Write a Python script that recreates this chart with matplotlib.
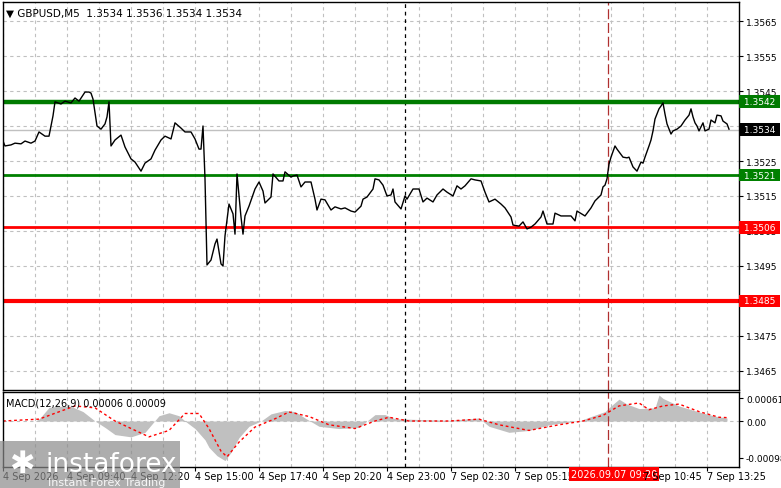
import matplotlib
matplotlib.use("Agg")
import matplotlib.pyplot as plt
import numpy as np
from matplotlib.patches import Rectangle

price_bars = [0,1,4,6,9,11,14,16,18,21,23,25,26,29,31,34,36,38,41,43,44,45,47,49,51,52,53,54,56,59,61,64,66,69,71,74,76,79,81,84,86,89,91,94,96,98,99,100,101,102,104,106,107,109,110,111,113,115,116,117,119,120,121,123,126,128,130,131,134,135,138,140,141,144,145,147,149,151,154,156,157,159,161,164,166,169,171,174,176,179,180,182,185,186,188,190,192,194,195,196,199,201,202,205,208,210,212,215,217,220,222,225,227,229,231,234,236,239,241,243,246,249,251,254,255,258,260,262,264,266,269,270,272,275,276,279,281,284,286,287,291,294,296,299,300,301,302,303,304,306,307,310,312,313,314,315,317,319,320,321,323,324,325,326,328,329,330,331,332,334,335,337,339,341,343,344,345,346,347,348,350,351,353,354,356,357,359,360,362,363]
price_vals = [1.35307,1.35293,1.35296,1.35301,1.35299,1.35307,1.35301,1.35307,1.35333,1.35321,1.35321,1.35379,1.35419,1.35413,1.35421,1.35416,1.35430,1.35421,1.35447,1.35447,1.35444,1.35427,1.35350,1.35341,1.35356,1.35376,1.35419,1.35293,1.35310,1.35324,1.35290,1.35256,1.35247,1.35221,1.35244,1.35256,1.35281,1.35310,1.35321,1.35313,1.35359,1.35344,1.35333,1.35333,1.35313,1.35284,1.35284,1.35350,1.35199,1.34953,1.34967,1.35013,1.35027,1.34956,1.34950,1.35036,1.35127,1.35099,1.35041,1.35213,1.35090,1.35041,1.35093,1.35121,1.35170,1.35190,1.35164,1.35130,1.35147,1.35213,1.35193,1.35193,1.35219,1.35204,1.35207,1.35210,1.35176,1.35190,1.35190,1.35141,1.35110,1.35141,1.35139,1.35110,1.35119,1.35113,1.35116,1.35107,1.35104,1.35121,1.35141,1.35147,1.35170,1.35199,1.35196,1.35181,1.35150,1.35153,1.35170,1.35133,1.35113,1.35150,1.35141,1.35170,1.35170,1.35133,1.35144,1.35133,1.35153,1.35170,1.35161,1.35150,1.35179,1.35170,1.35179,1.35199,1.35196,1.35193,1.35161,1.35133,1.35141,1.35127,1.35116,1.35090,1.35067,1.35064,1.35076,1.35056,1.35061,1.35070,1.35090,1.35107,1.35070,1.35070,1.35101,1.35093,1.35093,1.35093,1.35079,1.35107,1.35093,1.35116,1.35136,1.35153,1.35176,1.35181,1.35199,1.35241,1.35261,1.35293,1.35284,1.35261,1.35259,1.35261,1.35247,1.35233,1.35221,1.35247,1.35244,1.35261,1.35293,1.35310,1.35336,1.35370,1.35399,1.35407,1.35416,1.35384,1.35356,1.35327,1.35336,1.35341,1.35350,1.35367,1.35381,1.35399,1.35376,1.35359,1.35350,1.35336,1.35359,1.35336,1.35341,1.35367,1.35359,1.35381,1.35379,1.35364,1.35356,1.35341]

hist_bars = [0,16,18,23,27,34,40,46,51,56,64,71,78,83,88,91,96,101,103,107,111,114,118,123,129,134,141,146,151,158,168,178,186,191,196,208,223,233,238,243,253,263,273,283,288,293,301,304,308,312,318,326,328,330,338,348,356,362]
hist_vals = [0,0,0.00005,0.00036,0.00039,0.00039,0.00025,0,-0.00017,-0.00036,-0.00042,-0.0003,0.00014,0.00022,0.00014,0.0,-0.0002,-0.0005,-0.0007,-0.00092,-0.00105,-0.00083,-0.00044,-0.00014,0.0,0.00019,0.00028,0.00025,0.00008,-0.00014,-0.0002,-0.00017,0.00017,0.00017,0.00006,0.00004,0.00002,0.00006,0.00008,-0.00014,-0.0003,-0.00025,-0.0001,-0.00003,0.0,0.0001,0.00025,0.0004,0.00058,0.00045,0.00033,0.00035,0.00069,0.0006,0.0004,0.00024,0.00013,0.00008]

sig_bars = [0,18,36,46,56,73,83,91,98,103,109,112,118,126,136,143,153,163,176,186,193,203,223,238,248,263,278,290,300,308,318,323,330,338,348,358,362]
sig_vals = [0.0,0.00005,0.0004,0.00035,0.0,-0.00042,-0.00025,0.0002,0.0002,-0.0002,-0.0008,-0.00095,-0.00056,-0.00016,0.00006,0.00024,0.00012,-0.0001,-0.0002,0.0,0.0001,0.0,0.0,0.00005,-0.0001,-0.00025,-0.0001,0.0,0.00015,0.0004,0.00048,0.0003,0.0004,0.00045,0.00025,0.0001,0.00009]

levels = [1.3542, 1.3521, 1.3506, 1.3485]
level_colors = ["#007b00", "#008000", "#ff0000", "#ff0000"]
level_widths = [3.2, 2.0, 2.0, 3.0]
price_ticks = [1.3565,1.3555,1.3545,1.3535,1.3525,1.3515,1.3505,1.3495,1.3485,1.3475,1.3465]
xtick_bars = [0,32,64,96,128,160,192,224,256,288,320,352]
xtick_labels = ["4 Sep 2026","4 Sep 09:40","4 Sep 12:20","4 Sep 15:00","4 Sep 17:40","4 Sep 20:20",
                "4 Sep 23:00","7 Sep 02:30","7 Sep 05:15","2026.09.07 09:20","7 Sep 10:45","7 Sep 13:25"]
last_price = 1.3534

W, H = 781, 489
fig = plt.figure(figsize=(W/100, H/100), dpi=100)
fig.patch.set_facecolor("white")
L, R = 3, 739
ax = fig.add_axes([L/W, (H-391)/H, (R-L)/W, 388/H])
mx = fig.add_axes([L/W, (H-468)/H, (R-L)/W, 75/H])
XMAX = 368
for a in (ax, mx):
    a.set_xlim(0, XMAX)
    for s in a.spines.values():
        s.set_color("black"); s.set_linewidth(1.0)
    a.tick_params(left=False, labelleft=False, bottom=False, labelbottom=False,
                  right=True, labelright=True, direction="out", length=3, labelsize=6.5, pad=2)
    for xb in range(0, XMAX, 16):
        a.axvline(xb, color="#c0c0c0", ls=(0, (3, 3)), lw=0.8, zorder=0)

ax.set_ylim(1.345957, 1.357043)
ax.set_yticks(price_ticks)
ax.set_yticklabels([f"{t:.4f}" for t in price_ticks])
for t in price_ticks:
    ax.axhline(t, color="#c0c0c0", ls=(0, (3, 3)), lw=0.8, zorder=0)
ax.axhline(last_price, color="#c0c0c0", lw=1.0, zorder=1)
for lv, c, w in zip(levels, level_colors, level_widths):
    ax.axhline(lv, color=c, lw=w, zorder=2)
ax.plot(price_bars, price_vals, color="black", lw=1.0, zorder=3)
ax.axvline(201, color="black", ls=(0, (3, 3)), lw=0.9, zorder=1)
ax.axvline(302.5, color="#b03030", ls=(0, (8, 3)), lw=0.9, zorder=1)
for lv, c in zip(levels + [last_price], ["#007b00", "#008000", "#ff0000", "#ff0000", "black"]):
    ax.text(1.003, lv, f" {lv:.4f} ", transform=ax.get_yaxis_transform(), va="center", ha="left",
            fontsize=6.5, color="white", zorder=10,
            bbox=dict(boxstyle="square,pad=0.2", fc=c, ec="none"), clip_on=False)
ax.text(0.004, 0.985, "▼ GBPUSD,M5  1.3534 1.3536 1.3534 1.3534", transform=ax.transAxes,
        va="top", ha="left", fontsize=7.5)

mx.set_ylim(-0.00122, 0.00077)
mx.set_yticks([0.00061, 0.0, -0.00098])
mx.set_yticklabels(["0.00061", "0.00", "-0.00098"])
mx.axhline(0, color="#c0c0c0", ls=(0, (3, 3)), lw=0.8, zorder=0)
mx.fill_between(hist_bars, 0, hist_vals, color="#c0c0c0", lw=0, zorder=1)
mx.plot(sig_bars, sig_vals, color="red", ls=(0, (2, 2)), lw=1.0, zorder=2)
mx.axvline(201, color="black", ls=(0, (3, 3)), lw=0.9, zorder=1)
mx.axvline(302.5, color="#b03030", ls=(0, (8, 3)), lw=0.9, zorder=1)
mx.text(0.004, 0.93, "MACD(12,26,9) 0.00006 0.00009", transform=mx.transAxes, va="top", ha="left", fontsize=7)

mx.set_xticks(xtick_bars)
mx.tick_params(bottom=True, length=3)
for xb, lab in zip(xtick_bars, xtick_labels):
    if lab.startswith("2026"):
        mx.text(xb - 4, -0.03, lab, transform=mx.get_xaxis_transform(), va="top", ha="left",
                fontsize=7, color="white", bbox=dict(boxstyle="square,pad=0.2", fc="red", ec="none"))
    else:
        mx.text(xb, -0.05, lab, transform=mx.get_xaxis_transform(), va="top", ha="left", fontsize=7)

# watermark
fig.patches.append(Rectangle((0, 0), 180/W, 47/H, transform=fig.transFigure,
                             fc="#8a8a8a", alpha=0.7, ec="none", zorder=20))
fig.text(45/W, 24/H, "instaforex", color="white", fontsize=19, va="center", ha="left", zorder=21)
fig.text(48/W, 6/H, "Instant Forex Trading", color="white", fontsize=8, va="center", ha="left", zorder=21, alpha=0.9)
fig.text(22/W, 24/H, "✱", color="white", fontsize=22, va="center", ha="center", zorder=21)

fig.savefig("out.png", dpi=100)
